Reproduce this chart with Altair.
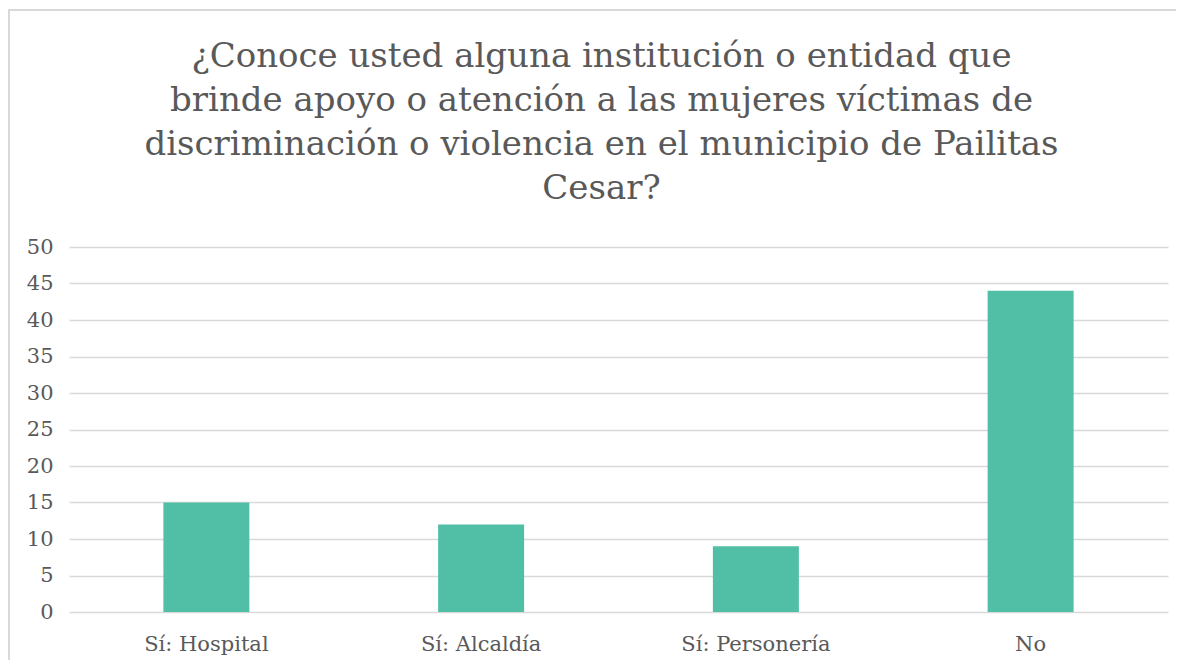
import altair as alt
import pandas as pd

categories = ["Sí: Hospital", "Sí: Alcaldía", "Sí: Personería", "No"]
values = [15, 12, 9, 44]
y_ticks = [0, 5, 10, 15, 20, 25, 30, 35, 40, 45, 50]
title_lines = [
    "¿Conoce usted alguna institución o entidad que",
    "brinde apoyo o atención a las mujeres víctimas de",
    "discriminación o violencia en el municipio de Pailitas",
    "Cesar?",
]

df = pd.DataFrame({"cat": categories, "val": values})

FONT = "DejaVu Serif"
TXT = "#595959"
W, H = 1099, 365

bars = alt.Chart(df).mark_bar(color="#50BFA5").encode(
    x=alt.X("cat:N", sort=categories, title=None,
            scale=alt.Scale(paddingInner=0.687, paddingOuter=0.3435),
            axis=alt.Axis(labelAngle=0, labelFont=FONT, labelFontSize=21,
                          labelColor=TXT, labelPadding=21, ticks=False,
                          domain=False, grid=False)),
    y=alt.Y("val:Q", title=None,
            scale=alt.Scale(domain=[0, 50], nice=False),
            axis=alt.Axis(values=y_ticks, labelFont=FONT, labelFontSize=21,
                          labelColor=TXT, labelPadding=16, ticks=False,
                          domain=False, gridColor="#D9D9D9", gridWidth=1.5)),
)

frame = alt.Chart(df).mark_rect(fill=None, stroke="#D9D9D9", strokeWidth=2).encode(
    x=alt.value(-60), x2=alt.value(W + 200),
    y=alt.value(-237), y2=alt.value(H + 300),
)

chart = alt.layer(frame, bars).properties(
    width=W, height=H,
    autosize=alt.AutoSizeParams(type="none"),
    padding={"left": 61, "top": 239, "right": 8, "bottom": 48},
    title=alt.TitleParams(text=title_lines, font=FONT, fontSize=34,
                          fontWeight="normal", color=TXT, anchor="middle",
                          lineHeight=44, offset=0, dx=-17, dy=197),
).configure_view(stroke=None)

chart.save("out.html", embed_options={"renderer": "svg", "actions": False})
